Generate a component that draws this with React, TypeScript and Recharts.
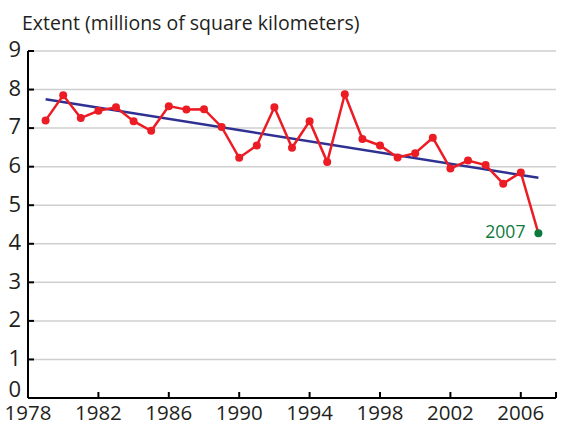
import { LineChart, Line, XAxis, YAxis, CartesianGrid } from 'recharts'

const years = [
  1979, 1980, 1981, 1982, 1983, 1984, 1985, 1986, 1987, 1988,
  1989, 1990, 1991, 1992, 1993, 1994, 1995, 1996, 1997, 1998,
  1999, 2000, 2001, 2002, 2003, 2004, 2005, 2006, 2007,
]
const extent = [
  7.2, 7.85, 7.26, 7.45, 7.54, 7.18, 6.93, 7.57, 7.48, 7.49,
  7.03, 6.23, 6.55, 7.54, 6.49, 7.18, 6.12, 7.88, 6.72, 6.55,
  6.24, 6.35, 6.75, 5.95, 6.16, 6.04, 5.56, 5.85, 4.27,
]
// linear trend, start and end values as drawn
const trendYears = [1979, 2007]
const trendValues = [7.75, 5.71]

const xTicks = [1978, 1982, 1986, 1990, 1994, 1998, 2002, 2006, 2008]
const yTicks = [0, 1, 2, 3, 4, 5, 6, 7, 8, 9]

const data = years.map((year, i) => ({ year, extent: extent[i] }))
const trend = trendYears.map((year, i) => ({ year, trend: trendValues[i] }))

const FONT = '"Open Sans", "Noto Sans", sans-serif'
const INK = '#231f20'
const RED = '#ec1c24'
const GREEN = '#0b7a3e'

function ExtentDot(props: any) {
  const { cx, cy, index } = props
  if (index === years.length - 1) {
    return (
      <g key={`dot-${index}`}>
        <circle cx={cx} cy={cy} r={4} fill={GREEN} />
        <text x={cx - 13} y={cy + 5} textAnchor="end" fill={GREEN} fontSize={17.5} fontFamily={FONT}>
          {years[index]}
        </text>
      </g>
    )
  }
  return <circle key={`dot-${index}`} cx={cx} cy={cy} r={4} fill={RED} />
}

// y labels sit a little above their ticks, "0" rests on the x axis
function YTick(props: any) {
  const { x, y, payload } = props
  const dy = payload.value === 0 ? -1.5 : 6.3
  return (
    <text x={x} y={y + dy} textAnchor="end" fill={INK} fontSize={22} fontFamily={FONT}>
      {payload.value}
    </text>
  )
}

// year labels; the last tick (2008) only closes the axis
function XTick(props: any) {
  const { x, y, payload } = props
  if (payload.value === 2008) return <g />
  return (
    <text x={x} y={y + 13} textAnchor="middle" fill={INK} fontSize={20.5} fontFamily={FONT}>
      {payload.value}
    </text>
  )
}

export default function App() {
  return (
    <div style={{ position: 'relative', width: 570, height: 425 }}>
      <style>{'body { margin: 0; }'}</style>
      <svg width={570} height={40} style={{ position: 'absolute', left: 0, top: 0 }}>
        <text x={22} y={30} fill={INK} fontSize={19.5} fontFamily={FONT}>
          Extent (millions of square kilometers)
        </text>
      </svg>
      <LineChart width={570} height={425} margin={{ top: 51, right: 14, left: 8, bottom: 7 }}>
        <CartesianGrid vertical={false} stroke="#cfcfcf" strokeWidth={1.5} />
        <XAxis
          dataKey="year"
          type="number"
          domain={[1978, 2008]}
          ticks={xTicks}
          interval={0}
          allowDataOverflow
          height={20}
          axisLine={{ stroke: '#000', strokeWidth: 2 }}
          tickLine={{ stroke: '#000', strokeWidth: 2 }}
          tickSize={-6}
          tickMargin={15}
          tick={XTick}
        />
        <YAxis
          type="number"
          domain={[0, 9]}
          ticks={yTicks}
          interval={0}
          width={20}
          axisLine={{ stroke: '#000', strokeWidth: 2 }}
          tickLine={{ stroke: '#000', strokeWidth: 2 }}
          tickSize={-6}
          tickMargin={13}
          tick={YTick}
        />
        <Line
          data={trend}
          dataKey="trend"
          stroke="#2e3192"
          strokeWidth={2.5}
          dot={false}
          isAnimationActive={false}
        />
        <Line
          data={data}
          dataKey="extent"
          stroke={RED}
          strokeWidth={2.5}
          dot={ExtentDot}
          isAnimationActive={false}
        />
      </LineChart>
    </div>
  )
}
